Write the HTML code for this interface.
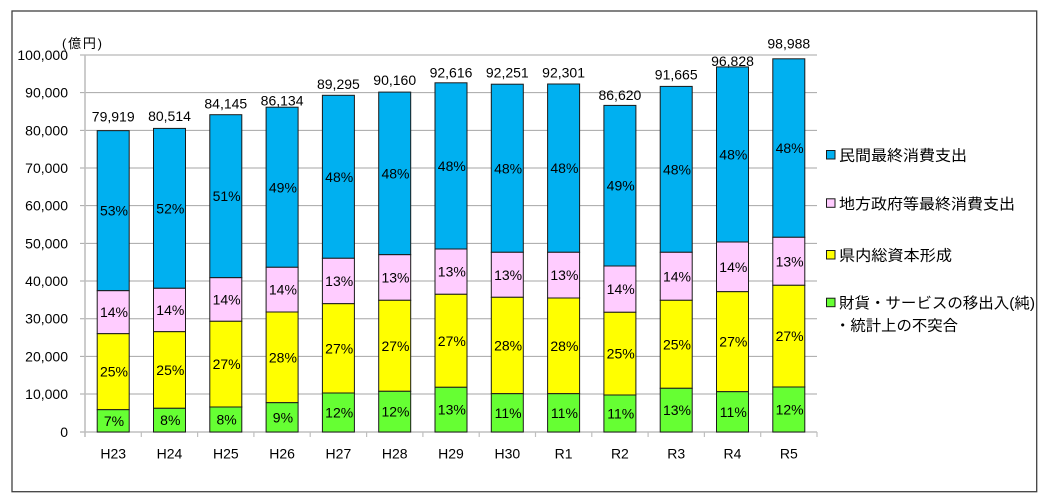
<!DOCTYPE html>
<html><head><meta charset="utf-8">
<style>
html,body{margin:0;padding:0;background:#fff;}
svg{display:block;}
text{font-family:"Liberation Sans","Noto Sans CJK JP",sans-serif;fill:#000;}
</style></head>
<body>
<svg width="1047" height="504" viewBox="0 0 1047 504" xmlns="http://www.w3.org/2000/svg">
<rect x="0" y="0" width="1047" height="504" fill="#fff"/>
<rect x="12" y="11" width="1024.7" height="480.7" fill="#fff" stroke="#404040" stroke-width="1.3"/>
<!-- gridlines -->
<g stroke="#a6a6a6" stroke-width="1">
<line x1="80" y1="394.03" x2="817" y2="394.03"/>
<line x1="80" y1="356.36" x2="817" y2="356.36"/>
<line x1="80" y1="318.69" x2="817" y2="318.69"/>
<line x1="80" y1="281.02" x2="817" y2="281.02"/>
<line x1="80" y1="243.35" x2="817" y2="243.35"/>
<line x1="80" y1="205.68" x2="817" y2="205.68"/>
<line x1="80" y1="168.01" x2="817" y2="168.01"/>
<line x1="80" y1="130.34" x2="817" y2="130.34"/>
<line x1="80" y1="92.67" x2="817" y2="92.67"/>
<line x1="80" y1="55" x2="817" y2="55"/>
</g>
<!-- axes -->
<g stroke="#bfbfbf" stroke-width="1.6">
<line x1="85" y1="55" x2="85" y2="437"/>
<line x1="80" y1="432" x2="817" y2="432"/>
</g>
<g stroke="#bfbfbf" stroke-width="1.2">
<line x1="141.3" y1="432" x2="141.3" y2="437"/>
<line x1="197.6" y1="432" x2="197.6" y2="437"/>
<line x1="253.9" y1="432" x2="253.9" y2="437"/>
<line x1="310.2" y1="432" x2="310.2" y2="437"/>
<line x1="366.6" y1="432" x2="366.6" y2="437"/>
<line x1="422.9" y1="432" x2="422.9" y2="437"/>
<line x1="479.2" y1="432" x2="479.2" y2="437"/>
<line x1="535.5" y1="432" x2="535.5" y2="437"/>
<line x1="591.8" y1="432" x2="591.8" y2="437"/>
<line x1="648.1" y1="432" x2="648.1" y2="437"/>
<line x1="704.4" y1="432" x2="704.4" y2="437"/>
<line x1="760.7" y1="432" x2="760.7" y2="437"/>
<line x1="817" y1="432" x2="817" y2="437"/>
</g>
<!-- y labels -->
<g font-size="14" text-anchor="end">
<text x="68" y="437">0</text>
<text x="68" y="399">10,000</text>
<text x="68" y="361.4">20,000</text>
<text x="68" y="323.7">30,000</text>
<text x="68" y="286">40,000</text>
<text x="68" y="248.4">50,000</text>
<text x="68" y="210.7">60,000</text>
<text x="68" y="173">70,000</text>
<text x="68" y="135.3">80,000</text>
<text x="68" y="97.7">90,000</text>
<text x="68" y="60">100,000</text>
</g>
<text x="62" y="48" font-size="13" textLength="40" lengthAdjust="spacing">(億円)</text>

<g stroke="#1a1a1a" stroke-width="1">
<!-- H23 -->
<rect x="97.2" y="130.65" width="32" height="160.05" fill="#00b0f0"/>
<rect x="97.2" y="290.7" width="32" height="43" fill="#ffccff"/>
<rect x="97.2" y="333.7" width="32" height="76" fill="#ffff00"/>
<rect x="97.2" y="409.7" width="32" height="22.3" fill="#66ff33"/>
<!-- H24 -->
<rect x="153.5" y="128.4" width="32" height="159.9" fill="#00b0f0"/>
<rect x="153.5" y="288.3" width="32" height="43.4" fill="#ffccff"/>
<rect x="153.5" y="331.7" width="32" height="76.6" fill="#ffff00"/>
<rect x="153.5" y="408.3" width="32" height="23.7" fill="#66ff33"/>
<!-- H25 -->
<rect x="209.8" y="114.7" width="32" height="163" fill="#00b0f0"/>
<rect x="209.8" y="277.7" width="32" height="43.6" fill="#ffccff"/>
<rect x="209.8" y="321.3" width="32" height="85.7" fill="#ffff00"/>
<rect x="209.8" y="407" width="32" height="25" fill="#66ff33"/>
<!-- H26 -->
<rect x="266.1" y="107.2" width="32" height="160.1" fill="#00b0f0"/>
<rect x="266.1" y="267.3" width="32" height="44.7" fill="#ffccff"/>
<rect x="266.1" y="312" width="32" height="90.7" fill="#ffff00"/>
<rect x="266.1" y="402.7" width="32" height="29.3" fill="#66ff33"/>
<!-- H27 -->
<rect x="322.4" y="95.3" width="32" height="163" fill="#00b0f0"/>
<rect x="322.4" y="258.3" width="32" height="45.4" fill="#ffccff"/>
<rect x="322.4" y="303.7" width="32" height="89.3" fill="#ffff00"/>
<rect x="322.4" y="393" width="32" height="39" fill="#66ff33"/>
<!-- H28 -->
<rect x="378.7" y="92.1" width="32" height="162.6" fill="#00b0f0"/>
<rect x="378.7" y="254.7" width="32" height="45.6" fill="#ffccff"/>
<rect x="378.7" y="300.3" width="32" height="91" fill="#ffff00"/>
<rect x="378.7" y="391.3" width="32" height="40.7" fill="#66ff33"/>
<!-- H29 -->
<rect x="435.0" y="82.8" width="32" height="166.2" fill="#00b0f0"/>
<rect x="435.0" y="249" width="32" height="45.3" fill="#ffccff"/>
<rect x="435.0" y="294.3" width="32" height="93" fill="#ffff00"/>
<rect x="435.0" y="387.3" width="32" height="44.7" fill="#66ff33"/>
<!-- H30 -->
<rect x="491.3" y="84.2" width="32" height="168.1" fill="#00b0f0"/>
<rect x="491.3" y="252.3" width="32" height="45" fill="#ffccff"/>
<rect x="491.3" y="297.3" width="32" height="96.4" fill="#ffff00"/>
<rect x="491.3" y="393.7" width="32" height="38.3" fill="#66ff33"/>
<!-- R1 -->
<rect x="547.6" y="84.0" width="32" height="168.3" fill="#00b0f0"/>
<rect x="547.6" y="252.3" width="32" height="45.7" fill="#ffccff"/>
<rect x="547.6" y="298" width="32" height="95.7" fill="#ffff00"/>
<rect x="547.6" y="393.7" width="32" height="38.3" fill="#66ff33"/>
<!-- R2 -->
<rect x="603.9" y="105.4" width="32" height="160.6" fill="#00b0f0"/>
<rect x="603.9" y="266" width="32" height="46.3" fill="#ffccff"/>
<rect x="603.9" y="312.3" width="32" height="82.7" fill="#ffff00"/>
<rect x="603.9" y="395" width="32" height="37" fill="#66ff33"/>
<!-- R3 -->
<rect x="660.2" y="86.4" width="32" height="165.9" fill="#00b0f0"/>
<rect x="660.2" y="252.3" width="32" height="48" fill="#ffccff"/>
<rect x="660.2" y="300.3" width="32" height="88" fill="#ffff00"/>
<rect x="660.2" y="388.3" width="32" height="43.7" fill="#66ff33"/>
<!-- R4 -->
<rect x="716.5" y="66.95" width="32" height="175.05" fill="#00b0f0"/>
<rect x="716.5" y="242" width="32" height="49.7" fill="#ffccff"/>
<rect x="716.5" y="291.7" width="32" height="100" fill="#ffff00"/>
<rect x="716.5" y="391.7" width="32" height="40.3" fill="#66ff33"/>
<!-- R5 -->
<rect x="772.8" y="58.8" width="32" height="178.5" fill="#00b0f0"/>
<rect x="772.8" y="237.3" width="32" height="48" fill="#ffccff"/>
<rect x="772.8" y="285.3" width="32" height="101.7" fill="#ffff00"/>
<rect x="772.8" y="387" width="32" height="45" fill="#66ff33"/>
</g>

<g font-size="14" text-anchor="middle">
<!-- totals -->
<text x="113.2" y="121.7">79,919</text>
<text x="169.5" y="121">80,514</text>
<text x="225.8" y="108.3">84,145</text>
<text x="282.1" y="105.5">86,134</text>
<text x="338.4" y="89">89,295</text>
<text x="394.7" y="85">90,160</text>
<text x="451.0" y="77.7">92,616</text>
<text x="507.3" y="77.7">92,251</text>
<text x="563.6" y="77.7">92,301</text>
<text x="619.9" y="100">86,620</text>
<text x="676.2" y="79.3">91,665</text>
<text x="732.5" y="66">96,828</text>
<text x="788.8" y="48.3">98,988</text>

<!-- blue -->
<text x="114" y="215.7">53%</text>
<text x="170.3" y="213.4">52%</text>
<text x="226.6" y="201.2">51%</text>
<text x="282.9" y="192.3">49%</text>
<text x="339.2" y="181.8">48%</text>
<text x="395.5" y="178.4">48%</text>
<text x="451.8" y="170.9">48%</text>
<text x="508.1" y="173.3">48%</text>
<text x="564.4" y="173.2">48%</text>
<text x="620.7" y="190.7">49%</text>
<text x="677.0" y="174.4">48%</text>
<text x="733.3" y="159.5">48%</text>
<text x="789.6" y="153">48%</text>
<!-- pink -->
<text x="114" y="317.2">14%</text>
<text x="170.3" y="315">14%</text>
<text x="226.6" y="304.5">14%</text>
<text x="282.9" y="294.7">14%</text>
<text x="339.2" y="286">13%</text>
<text x="395.5" y="282.5">13%</text>
<text x="451.8" y="276.7">13%</text>
<text x="508.1" y="279.8">13%</text>
<text x="564.4" y="280.2">13%</text>
<text x="620.7" y="294.2">14%</text>
<text x="677.0" y="281.3">14%</text>
<text x="733.3" y="271.9">14%</text>
<text x="789.6" y="266.3">13%</text>
<!-- yellow -->
<text x="114" y="376.7">25%</text>
<text x="170.3" y="375">25%</text>
<text x="226.6" y="369.2">27%</text>
<text x="282.9" y="362.4">28%</text>
<text x="339.2" y="353.4">27%</text>
<text x="395.5" y="350.8">27%</text>
<text x="451.8" y="345.8">27%</text>
<text x="508.1" y="350.5">28%</text>
<text x="564.4" y="350.9">28%</text>
<text x="620.7" y="358.7">25%</text>
<text x="677.0" y="349.3">25%</text>
<text x="733.3" y="346.7">27%</text>
<text x="789.6" y="341.2">27%</text>
<!-- green -->
<text x="114" y="425.9">7%</text>
<text x="170.3" y="425.2">8%</text>
<text x="226.6" y="424.5">8%</text>
<text x="282.9" y="422.4">9%</text>
<text x="339.2" y="417.5">12%</text>
<text x="395.5" y="416.7">12%</text>
<text x="451.8" y="414.7">13%</text>
<text x="508.1" y="417.9">11%</text>
<text x="564.4" y="417.9">11%</text>
<text x="620.7" y="418.5">11%</text>
<text x="677.0" y="415.2">13%</text>
<text x="733.3" y="416.9">11%</text>
<text x="789.6" y="414.5">12%</text>

<!-- x labels -->
<text x="113.2" y="458.5">H23</text>
<text x="169.5" y="458.5">H24</text>
<text x="225.8" y="458.5">H25</text>
<text x="282.1" y="458.5">H26</text>
<text x="338.4" y="458.5">H27</text>
<text x="394.7" y="458.5">H28</text>
<text x="451.0" y="458.5">H29</text>
<text x="507.3" y="458.5">H30</text>
<text x="563.6" y="458.5">R1</text>
<text x="619.9" y="458.5">R2</text>
<text x="676.2" y="458.5">R3</text>
<text x="732.5" y="458.5">R4</text>
<text x="788.8" y="458.5">R5</text>
</g>

<!-- legend -->
<g stroke="#1a1a1a" stroke-width="1">
<rect x="826.5" y="150.5" width="8.5" height="8.5" fill="#00b0f0"/>
<rect x="826.5" y="198.8" width="8.5" height="8.5" fill="#ffccff"/>
<rect x="826.5" y="250.5" width="8.5" height="8.5" fill="#ffff00"/>
<rect x="826.5" y="298.2" width="8.5" height="8.5" fill="#66ff33"/>
</g>
<g font-size="15">
<text x="839" y="160.5" textLength="128" lengthAdjust="spacingAndGlyphs">民間最終消費支出</text>
<text x="839" y="208.8" textLength="176" lengthAdjust="spacingAndGlyphs">地方政府等最終消費支出</text>
<text x="839" y="260.5" textLength="113" lengthAdjust="spacingAndGlyphs">県内総資本形成</text>
<text x="839" y="308.2" textLength="196" lengthAdjust="spacingAndGlyphs">財貨・サービスの移出入(純)</text>
<text x="835" y="330.5" textLength="123" lengthAdjust="spacingAndGlyphs">・統計上の不突合</text>
</g>
</svg>
</body></html>
